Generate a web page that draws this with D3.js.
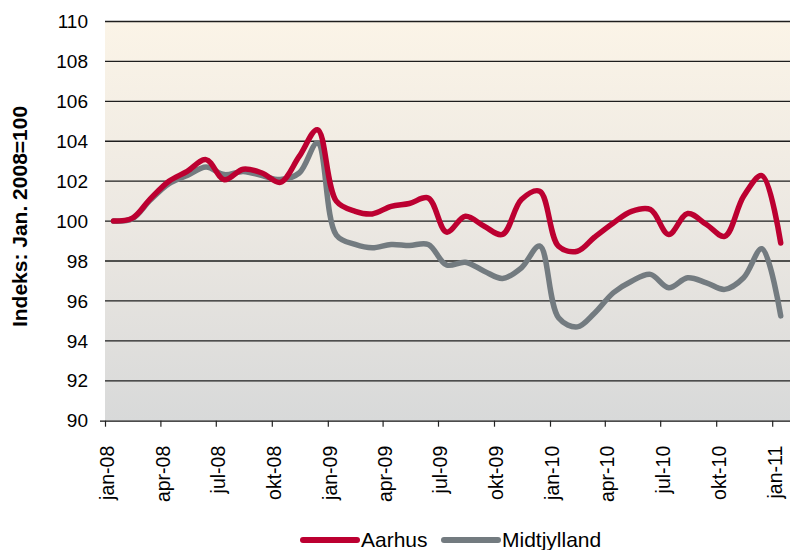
<!DOCTYPE html>
<html>
<head>
<meta charset="utf-8">
<script src="https://cdn.jsdelivr.net/npm/d3@7"></script>
<style>
  body { margin:0; background:#fff; }
  text { font-family: Arial, "Liberation Sans", sans-serif; fill:#000; }
</style>
</head>
<body>
<svg id="chart" width="790" height="550"></svg>
<script>
// monthly index values, plotted mid-month (jan-08 .. jan-11)
var months = d3.range(37).map(function(i){ return new Date(2008, i, 15); });
var aarhus = [100.0,100.15,101.1,102.0,102.49,103.08,102.07,102.6,102.41,101.94,103.24,104.58,
              101.0,100.49,100.36,100.74,100.88,101.16,99.45,100.24,99.74,99.33,101.08,101.5,
              98.74,98.49,99.19,99.91,100.49,100.58,99.33,100.38,99.83,99.24,101.24,102.28,98.9];
var midtjylland = [100.0,100.12,101.04,101.88,102.29,102.71,102.33,102.49,102.28,102.08,102.41,103.91,
              99.3,98.83,98.66,98.83,98.78,98.83,97.8,97.94,97.49,97.13,97.66,98.75,
              95.16,94.7,95.38,96.41,96.99,97.33,96.66,97.16,96.91,96.58,97.16,98.61,95.25];
var yTicks = d3.range(90, 111, 2);
var monthNames = ["jan","feb","mar","apr","maj","jun","jul","aug","sep","okt","nov","dec"];
var series = [
  {name:"Aarhus", values:aarhus, color:"#BC0031"},
  {name:"Midtjylland", values:midtjylland, color:"#737B80"}
];

var svg = d3.select("#chart");
var pLeft = 105, pRight = 790, pTop = 21.5, pBottom = 420.7;

var x = d3.scaleTime()
  .domain([new Date(2008,0,1), new Date(2011,0,1)])
  .range([105, 772.2]);
var y = d3.scaleLinear().domain([90,110]).range([pBottom, pTop]);

//background gradient
var grad = svg.append("defs").append("linearGradient")
  .attr("id","bg").attr("x1",0).attr("y1",0).attr("x2",0).attr("y2",1);
grad.append("stop").attr("offset","0%").attr("stop-color","#FBF4E7");
grad.append("stop").attr("offset","50%").attr("stop-color","#ECE8E2");
grad.append("stop").attr("offset","100%").attr("stop-color","#D8D9D9");

svg.append("rect")
  .attr("x",pLeft).attr("y",pTop)
  .attr("width",pRight-pLeft).attr("height",pBottom-pTop)
  .style("fill","url(#bg)");

//gridlines
svg.append("g").selectAll("line")
  .data(yTicks.filter(function(d){ return d>90; }))
  .enter().append("line")
  .attr("x1",pLeft).attr("x2",pRight)
  .attr("y1",function(d){ return y(d); })
  .attr("y2",function(d){ return y(d); })
  .style("stroke","#1e1e1e").style("stroke-width",1.3);

//y labels
svg.append("g").selectAll("text")
  .data(yTicks)
  .enter().append("text")
  .attr("x",88)
  .attr("y",function(d){ return y(d); })
  .attr("dy","0.35em")
  .attr("text-anchor","end")
  .style("font-size","19px")
  .text(function(d){ return d; });

//x axis
var quarters = d3.timeMonth.every(3).range(new Date(2008,0,1), new Date(2011,0,2));
var xAxis = d3.axisBottom(x)
  .tickValues(quarters)
  .tickSize(6)
  .tickSizeOuter(0)
  .tickFormat(function(d){ return monthNames[d.getMonth()]+"-"+d3.timeFormat("%y")(d); });

var gx = svg.append("g")
  .attr("transform","translate(0,"+pBottom+")")
  .call(xAxis);
gx.select(".domain").attr("d","M"+(pLeft-5)+",0.5H"+pRight).style("stroke","#111").style("stroke-width",1.3);
gx.selectAll(".tick line").style("stroke","#222").style("stroke-width",1.2);
gx.selectAll(".tick text")
  .attr("transform","rotate(-90)")
  .attr("text-anchor","end")
  .attr("x",-25)
  .attr("y",2)
  .attr("dy","0.35em")
  .style("font-size","19.5px")
  .style("font-family","Arial, 'Liberation Sans', sans-serif")
  .style("fill","#000");

//lines
var line = d3.line()
  .x(function(d,i){ return x(months[i]); })
  .y(function(d){ return y(d); })
  .curve(d3.curveCatmullRom);

svg.append("g").selectAll("path")
  .data(series.slice().reverse())
  .enter().append("path")
  .attr("d",function(s){ return line(s.values); })
  .style("fill","none")
  .style("stroke",function(s){ return s.color; })
  .style("stroke-width",5.5)
  .style("stroke-linecap","round")
  .style("stroke-linejoin","round");

//y title
svg.append("text")
  .attr("transform","translate(27,216.5) rotate(-90)")
  .attr("text-anchor","middle")
  .style("font-size","21px")
  .style("font-weight","bold")
  .text("Indeks: Jan. 2008=100");

//legend
var legX = [303, 444];
var leg = svg.append("g").selectAll("g")
  .data(series)
  .enter().append("g")
  .attr("transform",function(s,i){ return "translate("+legX[i]+",540)"; });
leg.append("line")
  .attr("x1",0).attr("x2",54)
  .style("stroke",function(s){ return s.color; })
  .style("stroke-width",6)
  .style("stroke-linecap","round");
leg.append("text")
  .attr("x",58)
  .attr("dy","0.35em")
  .style("font-size","21px")
  .text(function(s){ return s.name; });
</script>
</body>
</html>
